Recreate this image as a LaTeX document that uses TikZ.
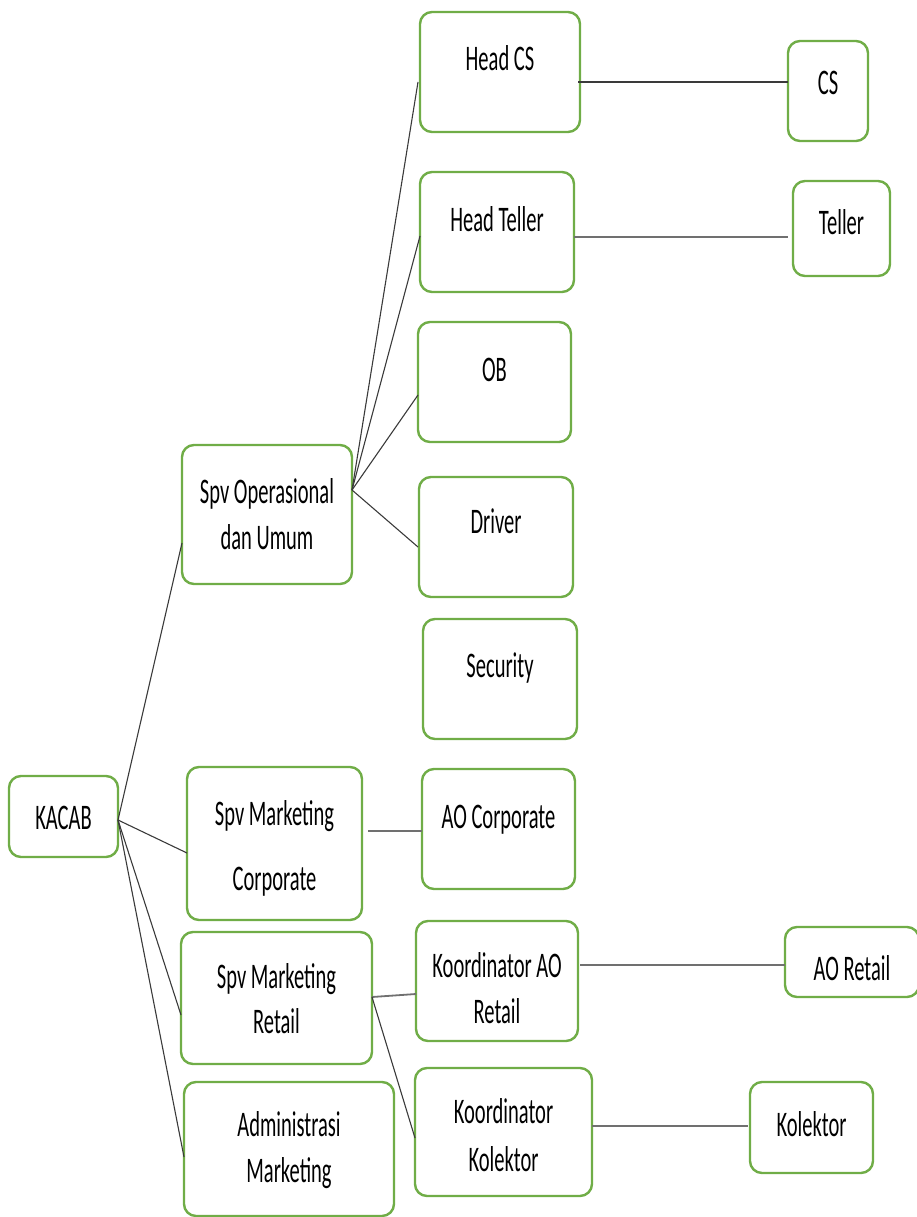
\documentclass[tikz,border=0pt]{standalone}
\usepackage{fontspec}
\setmainfont[FakeStretch=0.57]{Carlito}
\definecolor{boxgreen}{HTML}{70AD47}
\definecolor{linedark}{HTML}{3A3A3A}
\definecolor{linegray}{HTML}{707070}
\begin{document}
\begin{tikzpicture}[x=1pt,y=-1pt,
  box/.style={draw=boxgreen,line width=2.4pt,rounded corners=12pt,rectangle,inner sep=0pt,outer sep=0pt,fill=white},
  lbl/.style={anchor=base,inner sep=0pt,font=\fontsize{36}{44}\selectfont,text=black},
  conn/.style={draw=linedark,line width=1.1pt},
  hconn/.style={draw=linegray,line width=1.8pt}]
\useasboundingbox (0,0) rectangle (917,1217);
% boxes
\node[box,minimum width=109pt,minimum height=81pt] (kacab) at (63.5,816.5) {};
\node[box,minimum width=170pt,minimum height=139pt] (spvop) at (267,514.5) {};
\node[box,minimum width=160pt,minimum height=120pt] (hcs) at (500,72) {};
\node[box,minimum width=80pt,minimum height=100pt] (cs) at (828,91) {};
\node[box,minimum width=154pt,minimum height=120pt] (hteller) at (497,232) {};
\node[box,minimum width=97pt,minimum height=95pt] (teller) at (841.5,228.5) {};
\node[box,minimum width=153pt,minimum height=120pt] (ob) at (494.5,382) {};
\node[box,minimum width=154pt,minimum height=120pt] (driver) at (496,537) {};
\node[box,minimum width=154pt,minimum height=120pt] (security) at (500,679) {};
\node[box,minimum width=175pt,minimum height=153pt] (spvmc) at (274.5,843.5) {};
\node[box,minimum width=153pt,minimum height=120pt] (aocorp) at (498.5,829) {};
\node[box,minimum width=191pt,minimum height=132pt] (spvmr) at (276.5,998) {};
\node[box,minimum width=162pt,minimum height=120pt] (koao) at (497,981) {};
\node[box,minimum width=134pt,minimum height=70pt] (aoretail) at (852,962) {};
\node[box,minimum width=210pt,minimum height=134pt] (adm) at (289,1149) {};
\node[box,minimum width=177pt,minimum height=128pt] (kokol) at (503.5,1132) {};
\node[box,minimum width=123pt,minimum height=91pt] (kolektor) at (811.5,1127.5) {};
% labels
\node[lbl] (tkacab) at (63.5,829) {KACAB};
\node[lbl] (tspvop1) at (267,503) {Spv Operasional};
\node[lbl] (tspvop2) at (267,549) {dan Umum};
\node[lbl] (thcs) at (500,71) {Head CS};
\node[lbl] (tcs) at (828,95) {CS};
\node[lbl] (thteller) at (497,231) {Head Teller};
\node[lbl] (tteller) at (841.5,234) {Teller};
\node[lbl] (tob) at (494.5,381) {OB};
\node[lbl] (tdriver) at (496,533) {Driver};
\node[lbl] (tsecurity) at (500,677) {Security};
\node[lbl] (tspvmc1) at (274.5,825) {Spv Marketing};
\node[lbl] (tspvmc2) at (274.5,890) {Corporate};
\node[lbl] (taocorp) at (498.5,828) {AO Corporate};
\node[lbl] (tspvmr1) at (276.5,988) {Spv Marketing};
\node[lbl] (tspvmr2) at (276.5,1033) {Retail};
\node[lbl] (tkoao1) at (497,977) {Koordinator AO};
\node[lbl] (tkoao2) at (497,1023) {Retail};
\node[lbl] (taoretail) at (852,980) {AO Retail};
\node[lbl] (tadm1) at (289,1136) {Administrasi};
\node[lbl] (tadm2) at (289,1182) {Marketing};
\node[lbl] (tkokol1) at (503.5,1123) {Koordinator};
\node[lbl] (tkokol2) at (503.5,1171) {Kolektor};
\node[lbl] (tkolektor) at (811.5,1136) {Kolektor};
% connectors
\coordinate (kout) at ([yshift=-3.5pt]kacab.east);
\draw[conn] (kout) -- ([yshift=-28.5pt]spvop.west);
\draw[conn] (kout) -- ([yshift=-9.5pt]spvmc.west);
\draw[conn] (kout) -- ([yshift=-17pt]spvmr.west);
\draw[conn] (kout) -- ([yshift=-8pt]adm.west);
\coordinate (sout) at ([yshift=24.5pt]spvop.east);
\draw[conn] (sout) -- ([xshift=-2pt,yshift=-10pt]hcs.west);
\draw[conn] (sout) -- ([yshift=-4pt]hteller.west);
\draw[conn] (sout) -- ([yshift=-13pt]ob.west);
\draw[conn] (sout) -- ([xshift=-1pt,yshift=-10pt]driver.west);
\draw[conn,line width=1.4pt] ([xshift=-2pt,yshift=-10pt]hcs.east) -- ([yshift=9pt]cs.west);
\draw[hconn] ([yshift=-5pt]hteller.east) -- ([xshift=-5pt,yshift=-8.5pt]teller.west);
\draw[hconn] ([xshift=6pt,yshift=12.5pt]spvmc.east) -- ([yshift=-2pt]aocorp.west);
\coordinate (rout) at ([yshift=1pt]spvmr.east);
\draw[hconn] (rout) -- ([yshift=-13pt]koao.west);
\draw[conn] (rout) -- ([yshift=-6pt]kokol.west);
\draw[hconn] ([xshift=2pt,yshift=16pt]koao.east) -- ([yshift=-3pt]aoretail.west);
\draw[hconn] ([yshift=6pt]kokol.east) -- ([xshift=-2pt,yshift=1.5pt]kolektor.west);
\end{tikzpicture}
\end{document}
